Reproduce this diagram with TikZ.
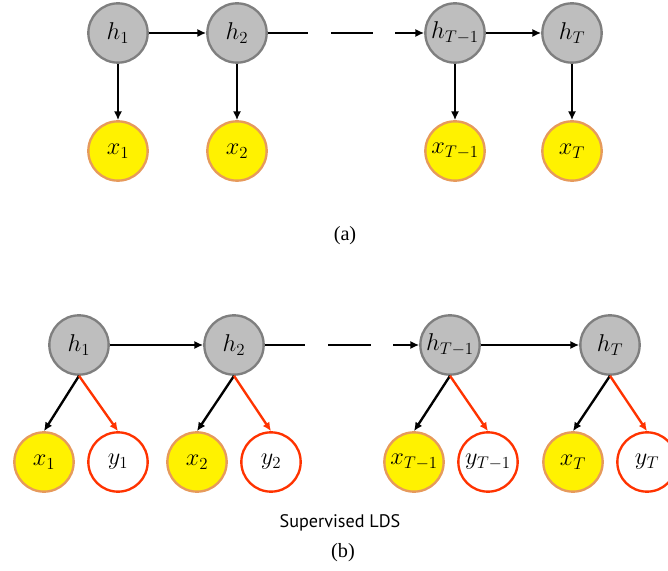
\documentclass[tikz,border=0pt]{standalone}
\usepackage{fontspec}
\setmainfont{Liberation Serif}
\newfontfamily\capfont{PT Sans}
\usetikzlibrary{arrows.meta}

\definecolor{hidfill}{HTML}{BEBEBE}
\definecolor{hidline}{HTML}{7F7F7F}
\definecolor{obsline}{HTML}{E69A5C}
\definecolor{supred}{HTML}{FF3300}

\begin{document}
\begin{tikzpicture}[x=0.03cm, y=-0.03cm, line width=2pt,
    var/.style={circle, minimum size=1.78cm, inner sep=0pt, font=\fontsize{20.5}{22}\selectfont},
    hid/.style={var, draw=hidline, fill=hidfill},
    obs/.style={var, draw=obsline, fill=yellow},
    lab/.style={var, draw=supred, fill=white},
    edge/.style={-{Latex[length=2.6mm,width=2.4mm]}}]
  \useasboundingbox (0,0) rectangle (668,571);
  \clip (0,0) rectangle (668,571);

  % (a) plain LDS
  \node[hid] (ha1) at (118,33) {$h_1$};
  \node[hid] (ha2) at (237,33) {$h_2$};
  \node[hid] (haT1) at (455,33) {$h_{T-1}$};
  \node[hid] (haT) at (572,33) {$h_T$};
  \node[obs] (xa1) at (118,151) {$x_1$};
  \node[obs] (xa2) at (237,151) {$x_2$};
  \node[obs] (xaT1) at (455,151) {$x_{T-1}$};
  \node[obs] (xaT) at (572,151) {$x_T$};

  \coordinate (pa1) at (308,33);
  \coordinate (pa2) at (331,33);
  \coordinate (pa3) at (373,33);
  \coordinate (pa4) at (395,33);

  \draw[edge] (ha1) -- (ha2);
  \draw (ha2.east) -- (pa1);
  \draw (pa2) -- (pa3);
  \draw[edge] (pa4) -- (haT1.west);
  \draw[edge] (haT1) -- (haT);
  \foreach \t in {1,2,T1,T} \draw[edge] (ha\t) -- (xa\t);

  \node at (345,236) {\LARGE (a)};

  % (b) supervised LDS
  \node[hid] (hb1) at (79,345) {$h_1$};
  \node[hid] (hb2) at (234,345) {$h_2$};
  \node[hid] (hbT1) at (450,345) {$h_{T-1}$};
  \node[hid] (hbT) at (610,345) {$h_T$};
  \node[obs] (xb1) at (44,462) {$x_1$};
  \node[lab] (yb1) at (118,462) {$y_1$};
  \node[obs] (xb2) at (197,462) {$x_2$};
  \node[lab] (yb2) at (271,462) {$y_2$};
  \node[obs] (xbT1) at (414,462) {$x_{T-1}$};
  \node[lab] (ybT1) at (488,462) {$y_{T-1}$};
  \node[obs] (xbT) at (573,462) {$x_T$};
  \node[lab] (ybT) at (647,462) {$y_T$};

  \coordinate (pb1) at (305,345);
  \coordinate (pb2) at (328,345);
  \coordinate (pb3) at (371,345);
  \coordinate (pb4) at (393,345);

  \draw[edge] (hb1) -- (hb2);
  \draw (hb2.east) -- (pb1);
  \draw (pb2) -- (pb3);
  \draw[edge] (pb4) -- (hbT1.west);
  \draw[edge] (hbT1) -- (hbT);
  \foreach \t in {1,2,T1,T} {
    \draw[edge] (hb\t.south) -- (xb\t.north);
    \draw[edge, supred] (hb\t.south) -- (yb\t.north);
  }

  \node (cap) at (340,523) {\capfont\fontsize{15.5}{18}\selectfont Supervised LDS};
  \node at (343,553) {\LARGE (b)};
\end{tikzpicture}
\end{document}
